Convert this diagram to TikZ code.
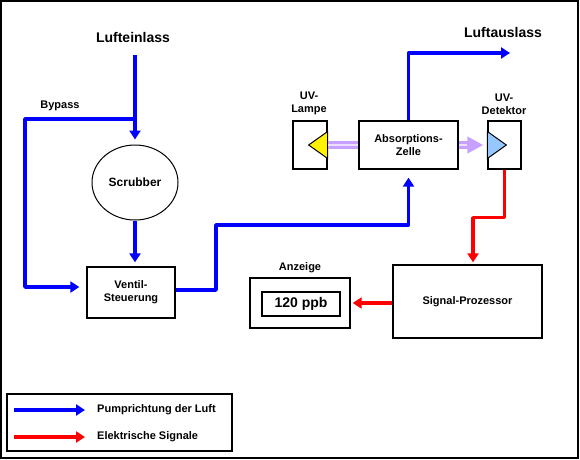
\documentclass[tikz,border=0pt]{standalone}
\usepackage{fontspec}
\setmainfont{Liberation Sans}
\usetikzlibrary{arrows.meta,shapes.geometric}
\definecolor{lilac}{RGB}{200,160,255}
\definecolor{lilacpale}{RGB}{238,222,255}
\definecolor{detblue}{RGB}{150,200,255}

\begin{document}
\begin{tikzpicture}[x=1pt,y=-1pt,>={Triangle[length=9pt,width=11pt]},font=\fontsize{11}{13}\selectfont\bfseries]
 \tikzstyle{box} = [draw=black,line width=1.3pt,fill=white,inner sep=0,align=center]
 \tikzstyle{air} = [draw=blue,line width=3.5pt,line join=round,->]
 \tikzstyle{signal} = [draw=red,line width=3.5pt,line join=round,->]
 \tikzstyle{uvlight} = [draw=lilac,line width=8pt]
 \tikzstyle{label} = [inner sep=0,align=center]
 \tikzstyle{big} = [font=\fontsize{14}{16}\selectfont\bfseries]
 \newcommand{\trih}{13.5}

% Frame
 \useasboundingbox (0,0) rectangle (580,459);
 \draw[line width=2pt] (1,1) rectangle (578,458);

% Boxes
 \node[box,ellipse,line width=1pt,minimum width=86,minimum height=75,font=\fontsize{12}{14}\selectfont\bfseries] (scrub) at (135,182.5) {Scrubber};
 \node[box,minimum width=88,minimum height=51] (valve) at (131,292.5) {Ventil-\\Steuerung};
 \node[box,minimum width=99,minimum height=48] (cell) at (408.5,145) {Absorptions-\\Zelle};
 \node[box,minimum width=34,minimum height=48] (lamp) at (310,145) {};
 \node[box,minimum width=33,minimum height=48] (det) at (504.5,145) {};
 \node[box,minimum width=149,minimum height=73] (proc) at (467.5,301.5) {Signal-Prozessor};
 \node[box,minimum width=100,minimum height=50] (disp) at (300,303) {};
 \node[box,big,minimum width=78,minimum height=24] (ppb) at (301,304) {120 ppb};
 \node[box,minimum width=225,minimum height=57] (legend) at (119.5,422.5) {};

% Labels
 \node[label,big] (inlettext) at (133,37) {Lufteinlass};
 \node[label,big] (outlettext) at (503,32) {Luftauslass};
 \node[label] (bypasstext) at (60,106) {Bypass};
 \node[label] (lamptext) at (309,103) {UV-\\Lampe};
 \node[label] (dettext) at (504,104) {UV-\\Detektor};
 \node[label] (disptext) at (300,268) {Anzeige};

% Lamp and detector
 \draw[fill=yellow,line width=1pt] (lamp.east) ++(0,-\trih) -- ++(-19,\trih) -- ++(19,\trih) -- cycle;
 \draw[fill=detblue,line width=1pt] (det.west) ++(0,-\trih) -- ++(19,\trih) -- ++(-19,\trih) -- cycle;

% UV light
 \draw[uvlight] (lamp.east) -- (cell.west);
 \draw[draw=lilacpale,line width=2.5pt] (lamp.east) -- (cell.west);
 \draw[uvlight,-{Triangle[length=16pt,width=16pt]},shorten >=4pt] (cell.east) -- (det.west);
 \draw[draw=lilacpale,line width=2.5pt,shorten >=20pt] (cell.east) -- (det.west);

% Air
 \coordinate (inlet) at (135,55);
 \coordinate (split) at (135,119);
 \coordinate (outlet) at (510,53);
 \draw[air,shorten >=5pt] (inlet) -- (scrub);
 \draw[air,shorten >=7pt] (split) -- ++(-110,0) |- ([yshift=5.5pt]valve.west);
 \draw[air,shorten >=4pt] (scrub.south) -- (scrub.south |- valve.north);
 \draw[air,shorten >=8pt] ([yshift=2.5pt]valve.east) -| (216,225) -| (cell.south);
 \draw[air] (cell.north) |- (outlet);

% Signals
 \draw[signal,shorten >=2pt] (det.south) -- ++(0,48) -| ([xshift=5.5pt]proc.north);
 \draw[signal,shorten >=2pt] (proc.west |- disp.east) -- (disp.east);

% Legend
 \coordinate (airfrom) at (14,410);
 \coordinate (airto) at (85,410);
 \coordinate (sigfrom) at (14,437);
 \coordinate (sigto) at (85,437);
 \draw[air] (airfrom) -- (airto);
 \draw[signal] (sigfrom) -- (sigto);
 \node[label,anchor=west] (airtext) at (97,410) {Pumprichtung der Luft};
 \node[label,anchor=west] (sigtext) at (97,437) {Elektrische Signale};

\end{tikzpicture}
\end{document}
